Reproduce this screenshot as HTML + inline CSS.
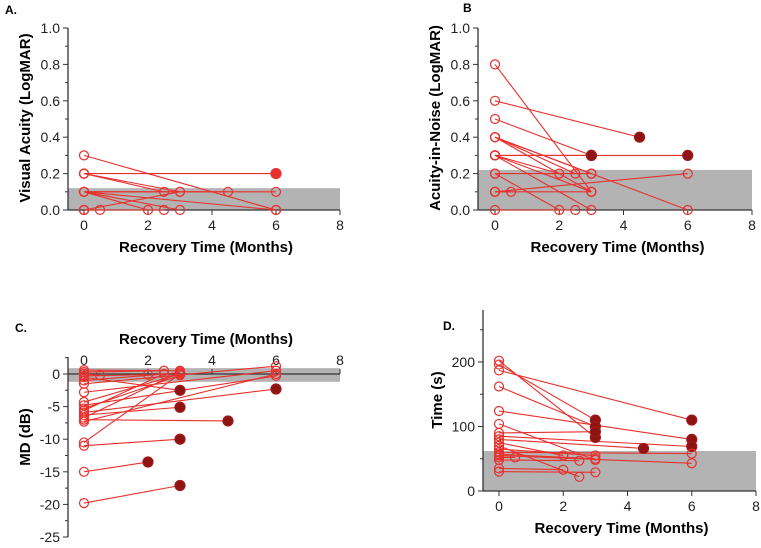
<!DOCTYPE html>
<html><head><meta charset="utf-8"><style>
body{margin:0;background:#fff}
svg text{font-family:"Liberation Sans",Arial,sans-serif}
</style></head><body>
<svg id="fig" width="761" height="543" viewBox="0 0 761 543" xmlns="http://www.w3.org/2000/svg"></svg>
<script>
// Panel data: [x0,y0,x1,y1,endFilled]
const segA=[[0,0.3,6,0,0],[0,0.2,6,0.2,2],[0,0.2,2.5,0.1,0],[0,0.2,3,0.1,0],[0,0.1,4.5,0.1,0],[0,0.1,6,0.1,0],[0,0.1,2,0,0],[0,0.1,3,0,0],[0,0.1,6,0,0],[0,0,3,0.1,0],[0,0,0.5,0,0],[0,0,2.5,0,0]];
const segB=[[0,0.8,3,0.1,0],[0,0.6,4.5,0.4,1],[0,0.5,3,0.3,1],[0,0.4,3,0.2,0],[0,0.4,3,0.1,0],[0,0.4,6,0,0],[0,0.4,2.5,0.2,0],[0,0.3,6,0.3,1],[0,0.3,3,0.3,1],[0,0.3,3,0.1,0],[0,0.3,3,0,0],[0,0.3,2,0.2,0],[0,0.2,3,0.2,0],[0,0.2,2,0,0],[0,0.1,6,0.2,0],[0,0.1,3,0.1,0],[0,0.1,0.5,0.1,0],[0,0,2.5,0,0]];
const segC=[[0,0.6,3,0.5,0],[0,0.3,2.5,0.5,0],[0,0,0.5,-0.2,0],[0,-0.3,2,-0.1,0],[0,-0.5,3,-2.5,1],[0,-1,3,0.2,0],[0,-1.5,6,1.2,0],[0,-2.8,6,0.5,0],[0,-4.3,3,0,0],[0,-4.8,6,-0.3,0],[0,-5.3,3,-0.2,0],[0,-5.6,2.5,0,0],[0,-5.9,6,-2.3,1],[0,-6.3,3,-5.1,1],[0,-6.7,3,0.3,0],[0,-7,4.5,-7.2,1],[0,-7.3,6,0,0],[0,-10.5,3,0,0],[0,-11,3,-10,1],[0,-15,2,-13.5,1],[0,-19.8,3,-17.1,1]];
const segD=[[0,202,3,83,1],[0,196,3,110,1],[0,187,6,110,1],[0,162,3,100,1],[0,124,6,80,1],[0,104,3,48,0],[0,90,3,92,1],[0,85,6,69,1],[0,80,4.5,66,1],[0,75,2,55,0],[0,70,2.5,22,0],[0,65,3,55,0],[0,60,6,58,0],[0,57,3,50,0],[0,55,6,43,0],[0,52,0.5,52,0],[0,48,2.5,47,0],[0,35,2,33,0],[0,30,3,29,0]];
const xTicks=[0,2,4,6,8];
const ticksAB=[0,0.2,0.4,0.6,0.8,1.0];
const ticksC=[0,-5,-10,-15,-20,-25];
const ticksD=[0,100,200];
const svg=document.getElementById('fig');
const NS='http://www.w3.org/2000/svg';
function mk(tag,attrs,parent){const e=document.createElementNS(NS,tag);for(const k in attrs)e.setAttribute(k,attrs[k]);(parent||svg).appendChild(e);return e;}
function txt(s,attrs,parent){const e=mk('text',attrs,parent);e.textContent=s;return e;}
const RED='#e8302c',DARK='#8e1414';
function panel(o){
  const g=mk('g',{});
  
  
  const X=v=>o.x0+(v)*(o.x8-o.x0)/8;
  const Y=v=>o.yb+(v-o.vb)*(o.yt-o.yb)/(o.vt-o.vb);
  // shade
  const sh=mk('rect',{x:o.axX,y:Y(o.shTop),width:X(8)-o.axX,height:Y(o.shBot)-Y(o.shTop),fill:'#b3b3b3'},g);
  
  
  // axes
  const ya=mk('line',{x1:o.axX,x2:o.axX,y1:o.yAxTop,y2:o.yAxBot,stroke:'#333','stroke-width':1.3},g);
  
  
  const xa=mk('line',{x1:o.axX,x2:X(8),y1:o.xAxY,y2:o.xAxY,stroke:'#333','stroke-width':1.3},g);
  
  
  o.yTicks.forEach(v=>{
    mk('line',{x1:o.axX-5,x2:o.axX,y1:Y(v),y2:Y(v),stroke:'#333'},g);
    const t=txt(o.fmt(v),{x:o.axX-8,y:Y(v)+5,'font-size':14,'text-anchor':'end',fill:'#222'},g);
    
    
  });
  o.minor.forEach(v=>mk('line',{x1:o.axX-3,x2:o.axX,y1:Y(v),y2:Y(v),stroke:'#333'},g));
  xTicks.forEach(v=>{
    const up=o.xTop;
    mk('line',{x1:X(v),x2:X(v),y1:o.xAxY,y2:o.xAxY+(up?-5:5),stroke:'#333'},g);
    const t=txt(String(v),{x:X(v),y:up?o.xAxY-9:o.xAxY+20,'font-size':14,'text-anchor':'middle',fill:'#222'},g);
    
    
  });
  const xt=txt('Recovery Time (Months)',{x:(X(0)+X(8))/2-6,y:o.xTitleY,'font-size':15,'font-weight':'bold','text-anchor':'middle'},g);
  
  
  const yt=txt(o.ylab,{x:0,y:0,'font-size':15,'font-weight':'bold','text-anchor':'middle',transform:`translate(${o.yTitleX},${o.yTitleY}) rotate(-90)`},g);
  
  
  const pl=txt(o.label,{x:o.lx,y:o.ly,'font-size':12,'font-weight':'bold'},g);
  
  
  o.segs.forEach(s=>{
    const l=mk('line',{x1:X(s[0]),y1:Y(s[1]),x2:X(s[2]),y2:Y(s[3]),stroke:RED,'stroke-width':1.1},g);
    
    
  });
  o.segs.forEach(s=>{
    const c1=mk('circle',{cx:X(s[0]),cy:Y(s[1]),r:4.5,fill:'none',stroke:RED,'stroke-width':1.2},g);
    
    
    const f=s[4];
    const c2=mk('circle',{cx:X(s[2]),cy:Y(s[3]),r:f?5:4.5,fill:f==1?DARK:(f==2?RED:'none'),stroke:f==1?'#a01818':RED,'stroke-width':1.2},g);
    
    
  });
}
const f1=v=>v.toFixed(1);
panel({name:'panel-a',label:'A.',lx:5,ly:14,segs:segA,x0:84,x8:340,axX:68,yt:28,yb:210,vt:1,vb:0,yAxTop:28,yAxBot:210,xAxY:210,
  shTop:0.12,shBot:0,yTicks:ticksAB,minor:[0.1,0.3,0.5,0.7,0.9],fmt:f1,xTitleY:252,ylab:'Visual Acuity (LogMAR)',yTitleX:30,yTitleY:118});
panel({name:'panel-b',label:'B',lx:463,ly:12,segs:segB,x0:495,x8:752,axX:478,yt:28,yb:210,vt:1,vb:0,yAxTop:28,yAxBot:210,xAxY:210,
  shTop:0.22,shBot:0,yTicks:ticksAB,minor:[0.1,0.3,0.5,0.7,0.9],fmt:f1,xTitleY:252,ylab:'Acuity-in-Noise  (LogMAR)',yTitleX:440,yTitleY:118});
panel({name:'panel-c',label:'C.',lx:15,ly:332,segs:segC,x0:84,x8:340,axX:68,yt:374,yb:537,vt:0,vb:-25,yAxTop:357,yAxBot:537,xAxY:374,xTop:true,
  shTop:0.9,shBot:-1.2,yTicks:ticksC,minor:[2.5,-2.5,-7.5,-12.5,-17.5,-22.5],fmt:v=>String(v),xTitleY:344,ylab:'MD (dB)',yTitleX:30,yTitleY:437});
panel({name:'panel-d',label:'D.',lx:443,ly:330,segs:segD,x0:499,x8:756,axX:483,yt:362,yb:491,vt:200,vb:0,yAxTop:310,yAxBot:491,xAxY:491,
  shTop:62,shBot:0,yTicks:ticksD,minor:[50,150,250],fmt:v=>String(v),xTitleY:533,ylab:'Time (s)',yTitleX:442,yTitleY:400});
</script>
</body></html>
